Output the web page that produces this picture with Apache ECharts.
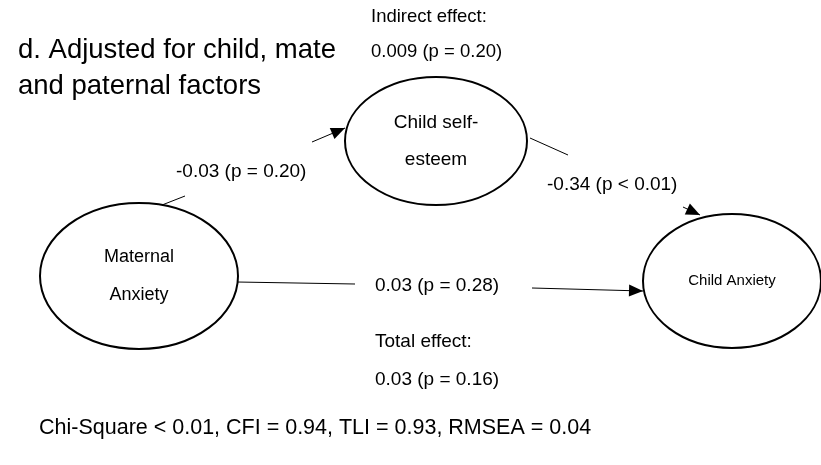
<!DOCTYPE html>
<html>
<head>
<meta charset="utf-8">
<script src="https://cdn.jsdelivr.net/npm/echarts@6/dist/echarts.min.js"></script>
<style>
html, body { margin: 0; padding: 0; background: #fff; }
#main { width: 821px; height: 465px; }
</style>
</head>
<body>
<div id="main"></div>
<script>
var titleLines = ['d. Adjusted for child, mate', 'and paternal factors'];
var nodeNames = ['Maternal\nAnxiety', 'Child self-\nesteem', 'Child Anxiety'];
var pathLabels = ['-0.03 (p = 0.20)', '-0.34 (p < 0.01)', '0.03 (p = 0.28)'];
var indirectEffect = ['Indirect effect:', '0.009 (p = 0.20)'];
var totalEffect = ['Total effect:', '0.03 (p = 0.16)'];
var fitIndices = 'Chi-Square < 0.01, CFI = 0.94, TLI = 0.93, RMSEA = 0.04';

// diagram layout in a pixel frame (x to the right, y downwards)
var nodeLayout = [
    [139, 276, 99, 73],
    [436, 141, 91, 64],
    [732, 281, 89, 67]
];
var nodeFont = [18, 19, 15];
var nodeLineHeight = [38, 37, 20];

// segments: x1, y1, x2, y2, arrow head at the end
var edgeLayout = [
    [162, 205, 185, 196, 0],
    [312, 142, 345, 128, 1],
    [530, 138, 568, 155, 0],
    [683, 207, 700, 215, 1],
    [237, 282, 355, 284, 0],
    [532, 288, 643, 291, 1]
];

var FONT = '"Liberation Sans", Arial, Helvetica, sans-serif';

function txt(text, x, y, size, align) {
    return {
        type: 'text',
        x: x,
        y: y,
        style: {
            text: text,
            fontSize: size,
            fontFamily: FONT,
            fill: '#000',
            align: align || 'left',
            verticalAlign: 'middle',
            textAlign: align || 'left',
            textVerticalAlign: 'middle'
        }
    };
}

function renderNode(params, api) {
    var i = params.dataIndex;
    var c = api.coord([api.value(0), api.value(1)]);
    var s = api.size([api.value(2), api.value(3)]);
    return {
        type: 'group',
        children: [{
            type: 'ellipse',
            shape: {cx: c[0], cy: c[1], rx: s[0], ry: s[1]},
            style: {fill: '#fff', stroke: '#000', lineWidth: 2}
        }, {
            type: 'text',
            x: c[0],
            y: c[1],
            style: {
                text: nodeNames[i],
                fontSize: nodeFont[i],
                fontFamily: FONT,
                lineHeight: nodeLineHeight[i],
                fill: '#000',
                align: 'center',
                verticalAlign: 'middle',
                textAlign: 'center',
                textVerticalAlign: 'middle'
            }
        }]
    };
}

function renderEdge(params, api) {
    var p1 = api.coord([api.value(0), api.value(1)]);
    var p2 = api.coord([api.value(2), api.value(3)]);
    var children = [{
        type: 'line',
        shape: {x1: p1[0], y1: p1[1], x2: p2[0], y2: p2[1]},
        style: {stroke: '#000', lineWidth: 1}
    }];
    if (api.value(4)) {
        var dx = p2[0] - p1[0], dy = p2[1] - p1[1];
        var len = Math.sqrt(dx * dx + dy * dy);
        var ux = dx / len, uy = dy / len;
        var hl = 14, hw = 6;
        var bx = p2[0] - ux * hl, by = p2[1] - uy * hl;
        children.push({
            type: 'polygon',
            shape: {points: [
                [p2[0], p2[1]],
                [bx - uy * hw, by + ux * hw],
                [bx + uy * hw, by - ux * hw]
            ]},
            style: {fill: '#000'}
        });
    }
    return {type: 'group', children: children};
}

var chart = echarts.init(document.getElementById('main'));

var option = {
    backgroundColor: '#fff',
    animation: false,
    grid: {left: 0, right: 0, top: 0, bottom: 0},
    xAxis: {type: 'value', min: 0, max: 821, show: false},
    yAxis: {type: 'value', min: 0, max: 465, inverse: true, show: false},
    graphic: [
        txt(titleLines[0], 18, 50, 27.5),
        txt(titleLines[1], 18, 86, 27.5),
        txt(indirectEffect[0], 371, 17, 18.5),
        txt(indirectEffect[1], 371, 52, 18.5),
        txt(pathLabels[0], 176, 172, 19),
        txt(pathLabels[1], 547, 185, 19),
        txt(pathLabels[2], 375, 286, 19),
        txt(totalEffect[0], 375, 342, 19),
        txt(totalEffect[1], 375, 380, 19),
        txt(fitIndices, 39, 428, 21.5)
    ],
    series: [{
        type: 'custom',
        renderItem: renderEdge,
        data: edgeLayout,
        silent: true,
        z: 1
    }, {
        type: 'custom',
        renderItem: renderNode,
        data: nodeLayout,
        silent: true,
        z: 2
    }]
};

chart.setOption(option);
</script>
</body>
</html>
